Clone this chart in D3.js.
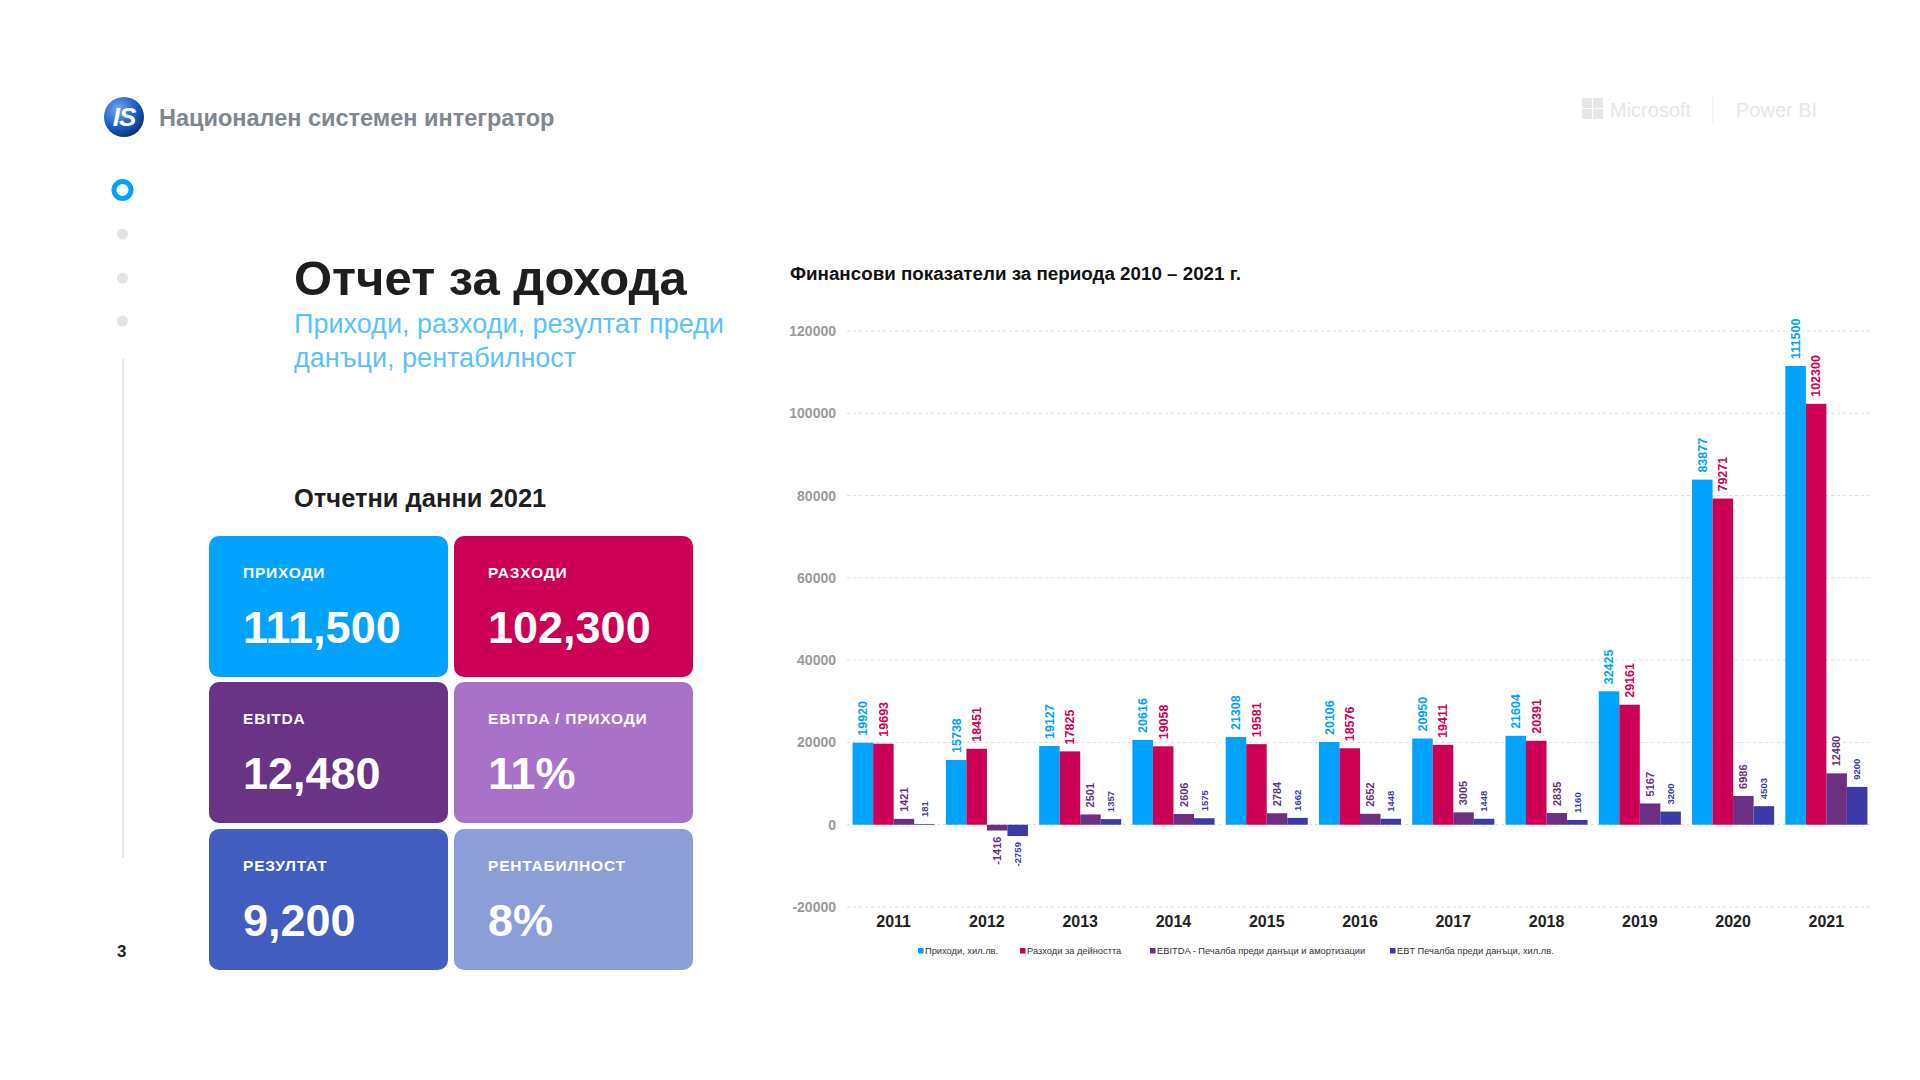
<!DOCTYPE html>
<html lang="bg">
<head>
<meta charset="utf-8">
<script src="https://cdn.jsdelivr.net/npm/d3@7"></script>
<style>
  html, body { margin: 0; padding: 0; background: #ffffff; }
  svg { display: block; font-family: "Liberation Sans", Arial, Helvetica, sans-serif; }
</style>
</head>
<body>
<svg id="page" width="1920" height="1080"></svg>
<script>
// ---------- DATA ----------
const years = ["2011","2012","2013","2014","2015","2016","2017","2018","2019","2020","2021"];
const revenue = [19920, 15738, 19127, 20616, 21308, 20106, 20950, 21604, 32425, 83877, 111500];
const expenses = [19693, 18451, 17825, 19058, 19581, 18576, 19411, 20391, 29161, 79271, 102300];
const ebitda = [1421, -1416, 2501, 2606, 2784, 2652, 3005, 2835, 5167, 6986, 12480];
const ebt = [181, -2759, 1357, 1575, 1662, 1448, 1448, 1160, 3200, 4503, 9200];
const seriesNames = ["Приходи, хил.лв.", "Разходи за дейността", "EBITDA - Печалба преди данъци и амортизации", "EBT Печалба преди данъци, хил.лв."];
const yTicks = [-20000, 0, 20000, 40000, 60000, 80000, 100000, 120000];

const kpiLabels = ["ПРИХОДИ", "РАЗХОДИ", "EBITDA", "EBITDA / ПРИХОДИ", "РЕЗУЛТАТ", "РЕНТАБИЛНОСТ"];
const kpiValues = ["111,500", "102,300", "12,480", "11%", "9,200", "8%"];

const seriesColors = ["#00a2ff", "#cc0055", "#6b3083", "#3d3aa5"];
const kpiColors = ["#02a3fe", "#cc0055", "#6a3385", "#a972c8", "#405dbf", "#8c9ed8"];

const svg = d3.select("#page");

// ---------- HEADER ----------
const logo = svg.append("g");
const grad = svg.append("defs").append("radialGradient").attr("id", "lg").attr("cx", "35%").attr("cy", "30%").attr("r", "75%");
grad.append("stop").attr("offset", "0%").attr("stop-color", "#6aa8f0");
grad.append("stop").attr("offset", "60%").attr("stop-color", "#1f5fc4");
grad.append("stop").attr("offset", "100%").attr("stop-color", "#0b2f7a");
logo.append("circle").attr("cx", 124).attr("cy", 117).attr("r", 20).attr("fill", "url(#lg)");
logo.append("text").attr("x", 124).attr("y", 126).attr("text-anchor", "middle")
  .attr("font-size", 26).attr("font-weight", 700).attr("font-style", "italic").attr("fill", "#ffffff")
  .attr("letter-spacing", -1).text("IS");
svg.append("text").attr("x", 159).attr("y", 126).attr("font-size", 23.5).attr("font-weight", 700)
  .attr("fill", "#7f8790").text("Национален системен интегратор");

// Microsoft | Power BI (faint)
const ms = svg.append("g").attr("fill", "#e6e6e6");
[[0,0],[11,0],[0,11],[11,11]].forEach(([dx,dy]) => ms.append("rect").attr("x", 1582+dx).attr("y", 98+dy).attr("width", 10).attr("height", 10));
ms.append("text").attr("x", 1610).attr("y", 117).attr("font-size", 20).text("Microsoft");
svg.append("line").attr("x1", 1713).attr("x2", 1713).attr("y1", 95).attr("y2", 125).attr("stroke", "#eeeeee").attr("stroke-width", 1);
svg.append("text").attr("x", 1736).attr("y", 117).attr("font-size", 20).attr("fill", "#e6e6e6").text("Power BI");

// ---------- LEFT NAV ----------
svg.append("circle").attr("cx", 122.5).attr("cy", 190).attr("r", 8.5).attr("fill", "none").attr("stroke", "#00a2ff").attr("stroke-width", 5);
[234, 278, 321].forEach(y => svg.append("circle").attr("cx", 122.5).attr("cy", y).attr("r", 5.5).attr("fill", "#e3e3e3"));
svg.append("line").attr("x1", 123).attr("x2", 123).attr("y1", 359).attr("y2", 858).attr("stroke", "#e6e6e6").attr("stroke-width", 2);
svg.append("text").attr("x", 117).attr("y", 957).attr("font-size", 17).attr("font-weight", 700).attr("fill", "#222").text("3");

// ---------- TITLES ----------
svg.append("text").attr("x", 294).attr("y", 295).attr("font-size", 49).attr("font-weight", 700).attr("fill", "#1e1e1e").text("Отчет за дохода");
svg.append("text").attr("x", 294).attr("y", 333).attr("font-size", 27).attr("fill", "#5cc2fb").text("Приходи, разходи, резултат преди");
svg.append("text").attr("x", 294).attr("y", 367).attr("font-size", 27).attr("fill", "#5cc2fb").text("данъци, рентабилност");
svg.append("text").attr("x", 294).attr("y", 507).attr("font-size", 25.5).attr("font-weight", 700).attr("fill", "#1e1e1e").text("Отчетни данни 2021");

// ---------- KPI CARDS ----------
const cardX = [209, 454], cardY = [536, 682, 829], cardW = 239, cardH = 141;
kpiLabels.forEach((lab, i) => {
  const cx = cardX[i % 2], cy = cardY[Math.floor(i / 2)];
  const g = svg.append("g").attr("transform", `translate(${cx},${cy})`);
  g.append("rect").attr("width", cardW).attr("height", cardH).attr("rx", 10).attr("fill", kpiColors[i]);
  g.append("text").attr("x", 34).attr("y", 42).attr("font-size", 15.5).attr("font-weight", 700)
    .attr("letter-spacing", 0.8).attr("fill", "#ffffff").text(lab);
  g.append("text").attr("x", 34).attr("y", 107).attr("font-size", 45).attr("font-weight", 700)
    .attr("fill", "#ffffff").text(kpiValues[i]);
});

// ---------- CHART ----------
svg.append("text").attr("x", 790).attr("y", 280).attr("font-size", 18.8).attr("font-weight", 700).attr("fill", "#111")
  .text("Финансови показатели за периода 2010 – 2021 г.");

const x0 = d3.scaleBand().domain(years).range([847, 1873]).paddingInner(0.12).paddingOuter(0.06);
const x1 = d3.scaleBand().domain(d3.range(4)).range([0, x0.bandwidth()]).padding(0);
const y = d3.scaleLinear().domain([-20000, 120000]).range([907, 331]);

// gridlines
svg.append("g").selectAll("line").data(yTicks).join("line")
  .attr("x1", 847).attr("x2", 1873).attr("y1", d => y(d)).attr("y2", d => y(d))
  .attr("stroke", "#dcdcdc").attr("stroke-width", 1).attr("stroke-dasharray", "3,3");

// y axis labels
const yAxis = d3.axisLeft(y).tickValues(yTicks).tickSize(0).tickPadding(0).tickFormat(d => String(d));
const yG = svg.append("g").attr("transform", "translate(836,0)").call(yAxis);
yG.select(".domain").remove();
yG.selectAll("text").attr("font-size", 14).attr("font-weight", 700).attr("fill", "#9a9a9a")
  .attr("font-family", "'Liberation Sans', Arial, sans-serif");

// x axis labels
const xAxis = d3.axisBottom(x0).tickSize(0).tickPadding(0);
const xG = svg.append("g").attr("transform", "translate(0,916)").call(xAxis);
xG.select(".domain").remove();
xG.selectAll("text").attr("font-size", 16).attr("font-weight", 700).attr("fill", "#222")
  .attr("font-family", "'Liberation Sans', Arial, sans-serif");

const allSeries = [revenue, expenses, ebitda, ebt];
const labelSizes = [12.5, 12.5, 11, 9.5];
const rows = [];
years.forEach((yr, i) => allSeries.forEach((s, k) => rows.push({ yr, k, v: s[i] })));

const bars = svg.append("g");
bars.selectAll("rect").data(rows).join("rect")
  .attr("x", d => x0(d.yr) + x1(d.k))
  .attr("width", x1.bandwidth())
  .attr("y", d => y(Math.max(0, d.v)))
  .attr("height", d => Math.abs(y(d.v) - y(0)))
  .attr("fill", d => seriesColors[d.k]);

bars.selectAll("text").data(rows).join("text")
  .attr("transform", d => {
    const cx = x0(d.yr) + x1(d.k) + x1.bandwidth() / 2;
    const cy = d.v >= 0 ? y(d.v) - 7 : y(d.v) + 6;
    return `translate(${cx},${cy}) rotate(-90)`;
  })
  .attr("text-anchor", d => d.v >= 0 ? "start" : "end")
  .attr("dy", "0.35em")
  .attr("font-size", d => labelSizes[d.k])
  .attr("font-weight", 700)
  .attr("fill", d => seriesColors[d.k])
  .text(d => d.v);

// legend
const legX = [918, 1020, 1150, 1390];
const leg = svg.append("g");
seriesNames.forEach((n, k) => {
  leg.append("rect").attr("x", legX[k]).attr("y", 948).attr("width", 5.5).attr("height", 5.5).attr("fill", seriesColors[k]);
  leg.append("text").attr("x", legX[k] + 7).attr("y", 954).attr("font-size", 9.3).attr("fill", "#333").text(n);
});
</script>
</body>
</html>
